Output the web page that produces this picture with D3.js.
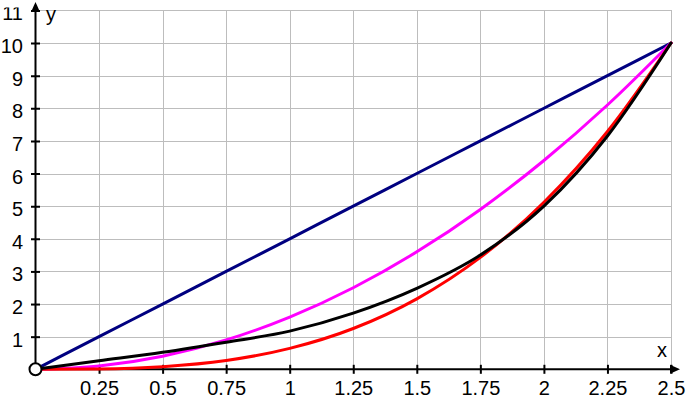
<!DOCTYPE html>
<html><head><meta charset="utf-8">
<script src="https://cdn.jsdelivr.net/npm/d3@7/dist/d3.min.js"></script>
<style>
html,body{margin:0;padding:0;background:#fff;}
text{font-family:"Liberation Sans",Arial,sans-serif;}
</style></head>
<body>
<svg id="chart" width="691" height="403"></svg>
<script>
// ---- data ----
const xs = [0, 0.25, 0.5, 0.75, 1, 1.25, 1.5, 1.75, 2, 2.25, 2.5];
const blueY = [0, 1, 2, 3, 4, 5, 6, 7, 8, 9, 10];
const magentaY = [0, 0.1, 0.4, 0.9, 1.6, 2.5, 3.6, 4.9, 6.4, 8.1, 10];
const redY = [0, 0.01, 0.08, 0.27, 0.64, 1.25, 2.16, 3.43, 5.12, 7.29, 10];
const blackY = [0, 0.26, 0.52, 0.83, 1.17, 1.72, 2.48, 3.5, 5.0, 7.15, 10];
const xTicks = [0.25, 0.5, 0.75, 1, 1.25, 1.5, 1.75, 2, 2.25, 2.5];
const yTicks = [1, 2, 3, 4, 5, 6, 7, 8, 9, 10, 11];
const xTickLabels = ["0.25", "0.5", "0.75", "1", "1.25", "1.5", "1.75", "2", "2.25", "2.5"];
const yTickLabels = ["1", "2", "3", "4", "5", "6", "7", "8", "9", "10", "11"];

const svg = d3.select("#chart");
const x = d3.scaleLinear().domain([0, 2.5]).range([35.5, 671]);
const y = d3.scaleLinear().domain([0, 11]).range([369.3, 10.4]);
const x0 = x(0), y0 = y(0);

// grid
const grid = svg.append("g").attr("stroke", "#bdbdbd").attr("stroke-width", 1).attr("shape-rendering", "crispEdges");
grid.selectAll("line.v").data(xTicks).join("line")
  .attr("x1", d => Math.round(x(d)) + 0.5).attr("x2", d => Math.round(x(d)) + 0.5)
  .attr("y1", y(11)).attr("y2", y0);
grid.selectAll("line.h").data(yTicks).join("line")
  .attr("y1", d => Math.round(y(d)) + 0.5).attr("y2", d => Math.round(y(d)) + 0.5)
  .attr("x1", x0).attr("x2", x(2.5));

// axes lines
svg.append("line").attr("x1", x0).attr("x2", 672).attr("y1", y0).attr("y2", y0)
  .attr("stroke", "#000").attr("stroke-width", 2);
svg.append("line").attr("x1", x0).attr("x2", x0).attr("y1", y0).attr("y2", 10)
  .attr("stroke", "#000").attr("stroke-width", 2);
// arrows
svg.append("path").attr("d", `M${x0},2 L${x0-4.5},12 L${x0+4.5},12 Z`).attr("fill", "#000");
svg.append("path").attr("d", `M680,${y0} L670,${y0-4.5} L670,${y0+4.5} Z`).attr("fill", "#000");

// x ticks via axis
const xAxis = d3.axisBottom(x).tickValues(xTicks).tickSize(9)
  .tickFormat((d, i) => xTickLabels[i]);
const gx = svg.append("g").attr("transform", `translate(0,${y0 - 4.5})`).call(xAxis);
gx.select(".domain").remove();
gx.selectAll(".tick line").attr("stroke", "#000").attr("stroke-width", 2);
gx.selectAll(".tick text").attr("y", 30).attr("dy", 0).attr("font-size", 20)
  .attr("font-family", "Liberation Sans, Arial, sans-serif").attr("fill", "#000");

// y ticks via axis
svg.append("clipPath").attr("id", "yclip").append("rect")
  .attr("x", -100).attr("y", 7.5).attr("width", 800).attr("height", 400);
const yAxis = d3.axisLeft(y).tickValues(yTicks).tickSize(9)
  .tickFormat((d, i) => yTickLabels[i]);
const gy = svg.append("g").attr("transform", `translate(${x0 + 4.5},0)`)
  .attr("clip-path", "url(#yclip)").call(yAxis);
gy.select(".domain").remove();
gy.selectAll(".tick line").attr("stroke", "#000").attr("stroke-width", 2);
gy.selectAll(".tick text").attr("x", -17).attr("dy", 9.5).attr("font-size", 20)
  .attr("font-family", "Liberation Sans, Arial, sans-serif").attr("fill", "#000");

// axis titles
svg.append("text").attr("x", 46).attr("y", 21).attr("font-size", 20).text("y");
svg.append("text").attr("x", 657).attr("y", 357).attr("font-size", 20).text("x");

// curves
const line = d3.line().x(d => x(d[0])).y(d => y(d[1])).curve(d3.curveMonotoneX);
const series = [
  {vals: blueY, color: "#000080", w: 3},
  {vals: magentaY, color: "#ff00ff", w: 3},
  {vals: redY, color: "#ff0000", w: 3},
  {vals: blackY, color: "#000000", w: 3}
];
svg.selectAll("path.series").data(series).join("path")
  .attr("class", "series")
  .attr("d", s => line(xs.map((xv, i) => [xv, s.vals[i]])))
  .attr("fill", "none").attr("stroke", s => s.color).attr("stroke-width", s => s.w)
  .attr("stroke-linejoin", "round").attr("stroke-linecap", "round");

// origin circle
svg.append("circle").attr("cx", x0).attr("cy", y0).attr("r", 6)
  .attr("fill", "#fff").attr("stroke", "#000").attr("stroke-width", 2);
</script>
</body></html>
